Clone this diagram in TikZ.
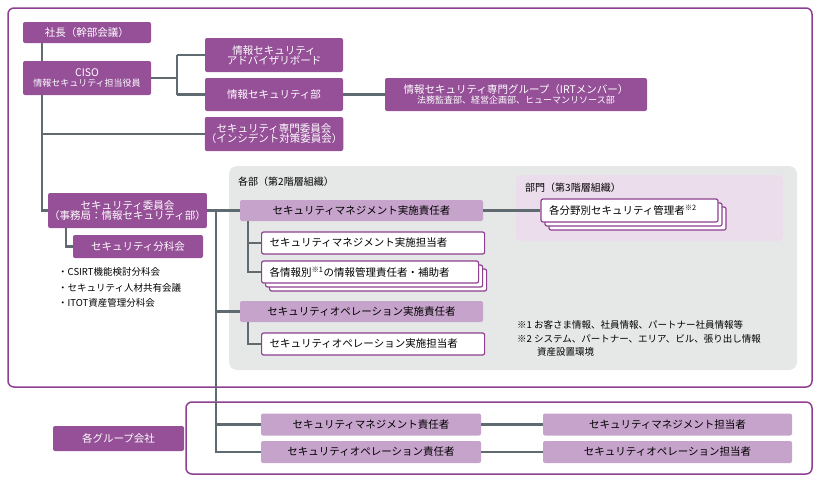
\documentclass[tikz,border=0pt]{standalone}
\usepackage{fontspec}
\setmainfont{Noto Sans CJK JP}
\definecolor{dp}{HTML}{955098}
\definecolor{lp}{HTML}{C6A3CB}
\definecolor{fr}{HTML}{8E3F91}
\definecolor{gr}{HTML}{E6E8E8}
\definecolor{lv}{HTML}{EBDDEC}
\definecolor{ln}{HTML}{5F6B70}
\begin{document}
\begin{tikzpicture}[x=1pt,y=-1pt,
 dark/.style={fill=dp,text=white,rounded corners=2pt,font=\fontsize{10.5}{12}\selectfont,align=center,inner sep=1pt},
 light/.style={fill=lp,text=black,rounded corners=2pt,font=\fontsize{10.5}{12}\selectfont,align=center,inner sep=1pt},
 white/.style={fill=white,draw=fr,line width=1.2pt,rounded corners=2pt,font=\fontsize{10.5}{12}\selectfont,align=left,text width=#1,inner xsep=8pt,inner ysep=1pt},
 white/.default=180pt,
 con/.style={draw=ln,line width=2.6pt},
 txt/.style={font=\fontsize{9.5}{11}\selectfont,anchor=west,inner sep=0pt}]
\useasboundingbox (0,0) rectangle (820,483);
\draw[fr,line width=1.5pt,rounded corners=6pt] (8,8) rectangle (812,387);
\draw[fr,line width=1.5pt,rounded corners=6pt] (186,402) rectangle (812,474);
\fill[gr,rounded corners=8pt] (229,166) rectangle (797,370);
\fill[lv,rounded corners=5pt] (516,175) rectangle (783,241);
\coordinate (c0) at (42,43);
\coordinate (c01) at (42,61);
\coordinate (c02) at (42,95);
\coordinate (c1) at (42,210.5);
\coordinate (c2) at (42,134);
\coordinate (v0) at (177,78);
\coordinate (v1) at (177,55);
\coordinate (v2) at (177,94.5);
\coordinate (v6) at (216,210.5);
\coordinate (v3) at (216,311.5);
\coordinate (v4) at (216,424.5);
\coordinate (v5) at (216,452);
\coordinate (w0) at (248,221);
\coordinate (w1) at (248,243);
\coordinate (w2) at (248,272);
\coordinate (w4) at (248,322);
\coordinate (w3) at (248,344);
\coordinate (f0) at (66,228);
\coordinate (f1) at (66,246.5);
\node[dark,minimum width=128pt,minimum height=21pt] (ceo) at (87,32.5) {社長（幹部会議）};
\node[dark,minimum width=128pt,minimum height=34pt] (ciso) at (87,78) {CISO\\[-2pt]{\fontsize{9}{10}\selectfont 情報セキュリティ担当役員}};
\node[dark,minimum width=138pt,minimum height=34pt] (adv) at (274,55) {情報セキュリティ\\[-2pt]アドバイザリボード};
\node[dark,minimum width=138pt,minimum height=33pt] (isd) at (274,94.5) {情報セキュリティ部};
\node[dark,minimum width=262pt,minimum height=33pt] (irt) at (516,94.5) {情報セキュリティ専門グループ（IRTメンバー）\\[-2pt]{\fontsize{9}{10}\selectfont 法務監査部、経営企画部、ヒューマンリソース部}};
\node[dark,minimum width=138pt,minimum height=34pt] (sc) at (274,134) {セキュリティ専門委員会\\[-2pt]（インシデント対策委員会）};
\node[dark,minimum width=151pt,minimum height=35pt] (cmt) at (127.5,210.5) {セキュリティ委員会\\[-2pt]（事務局：情報セキュリティ部）};
\node[dark,minimum width=130pt,minimum height=23pt] (sub) at (138,246.5) {セキュリティ分科会};
\node[txt] (l1) at (58,272) {・CSIRT機能検討分科会};
\node[txt] (l2) at (58,288) {・セキュリティ人材共有会議};
\node[txt] (l3) at (58,303) {・ITOT資産管理分科会};
\node[txt,font=\fontsize{10}{11}\selectfont] (t2) at (238,182) {各部（第2階層組織）};
\node[txt,font=\fontsize{10}{11}\selectfont] (t3) at (525,188) {部門（第3階層組織）};
\node[light,minimum width=243pt,minimum height=21pt] (smr) at (361.5,210.5) {セキュリティマネジメント実施責任者};
\node[white=161pt,minimum height=23pt] (fldc) at (637.5,218.5) {};
\node[white=161pt,minimum height=23pt] (fldb) at (633.5,214.5) {};
\node[white=161pt,minimum height=23pt] (fld) at (629.5,210.5) {各分野別セキュリティ管理者\textsuperscript{※2}};
\node[white=207pt,minimum height=22pt,anchor=west] (smt) at (261,243) {セキュリティマネジメント実施担当者};
\node[white=201pt,minimum height=22pt,anchor=west] (infc) at (269,280) {};
\node[white=201pt,minimum height=22pt,anchor=west] (infb) at (265,276) {};
\node[white=201pt,minimum height=22pt,anchor=west] (inf) at (261,272) {各情報別\textsuperscript{※1}の情報管理責任者・補助者};
\node[light,minimum width=243pt,minimum height=21pt] (sor) at (361.5,311.5) {セキュリティオペレーション実施責任者};
\node[white=207pt,minimum height=22pt,anchor=west] (sot) at (261,344) {セキュリティオペレーション実施担当者};
\node[txt] (n1) at (517,325) {※1 お客さま情報、社員情報、パートナー社員情報等};
\node[txt] (n2) at (517,339) {※2 システム、パートナー、エリア、ビル、張り出し情報};
\node[txt] (n3) at (537,352) {資産設置環境};
\node[dark,minimum width=131pt,minimum height=25pt] (grp) at (118.5,438.5) {各グループ会社};
\node[light,minimum width=220pt,minimum height=22pt] (gsmr) at (371,424.5) {セキュリティマネジメント責任者};
\node[light,minimum width=249pt,minimum height=22pt] (gsmt) at (667.5,424.5) {セキュリティマネジメント担当者};
\node[light,minimum width=220pt,minimum height=22pt] (gsor) at (371,452) {セキュリティオペレーション責任者};
\node[light,minimum width=249pt,minimum height=22pt] (gsot) at (667.5,452) {セキュリティオペレーション担当者};
\draw[con] (c0) -- (c01);
\draw[con] (c02) -- (c1) -- (cmt.west);
\draw[con] (c2) -- (sc.west);
\draw[con] (ciso.east) -- (v0) (v1) -- (v2) (v1) -- (adv.west) (v2) -- (isd.west);
\draw[con] (isd.east) -- (irt.west);
\draw[con] (cmt.east) -- (smr.west);
\draw[con] (v6) -- (v5) -- (gsor.west);
\draw[con] (v3) -- (sor.west);
\draw[con] (v4) -- (gsmr.west);
\draw[con] (smr.east) -- (fld.west);
\draw[con] (w0) -- (w2) -- (inf.west);
\draw[con] (w1) -- (smt.west);
\draw[con] (w4) -- (w3) -- (sot.west);
\draw[con] (f0) -- (f1) -- (sub.west);
\draw[con] (gsmr.east) -- (gsmt.west);
\draw[con] (gsor.east) -- (gsot.west);
\end{tikzpicture}
\end{document}
